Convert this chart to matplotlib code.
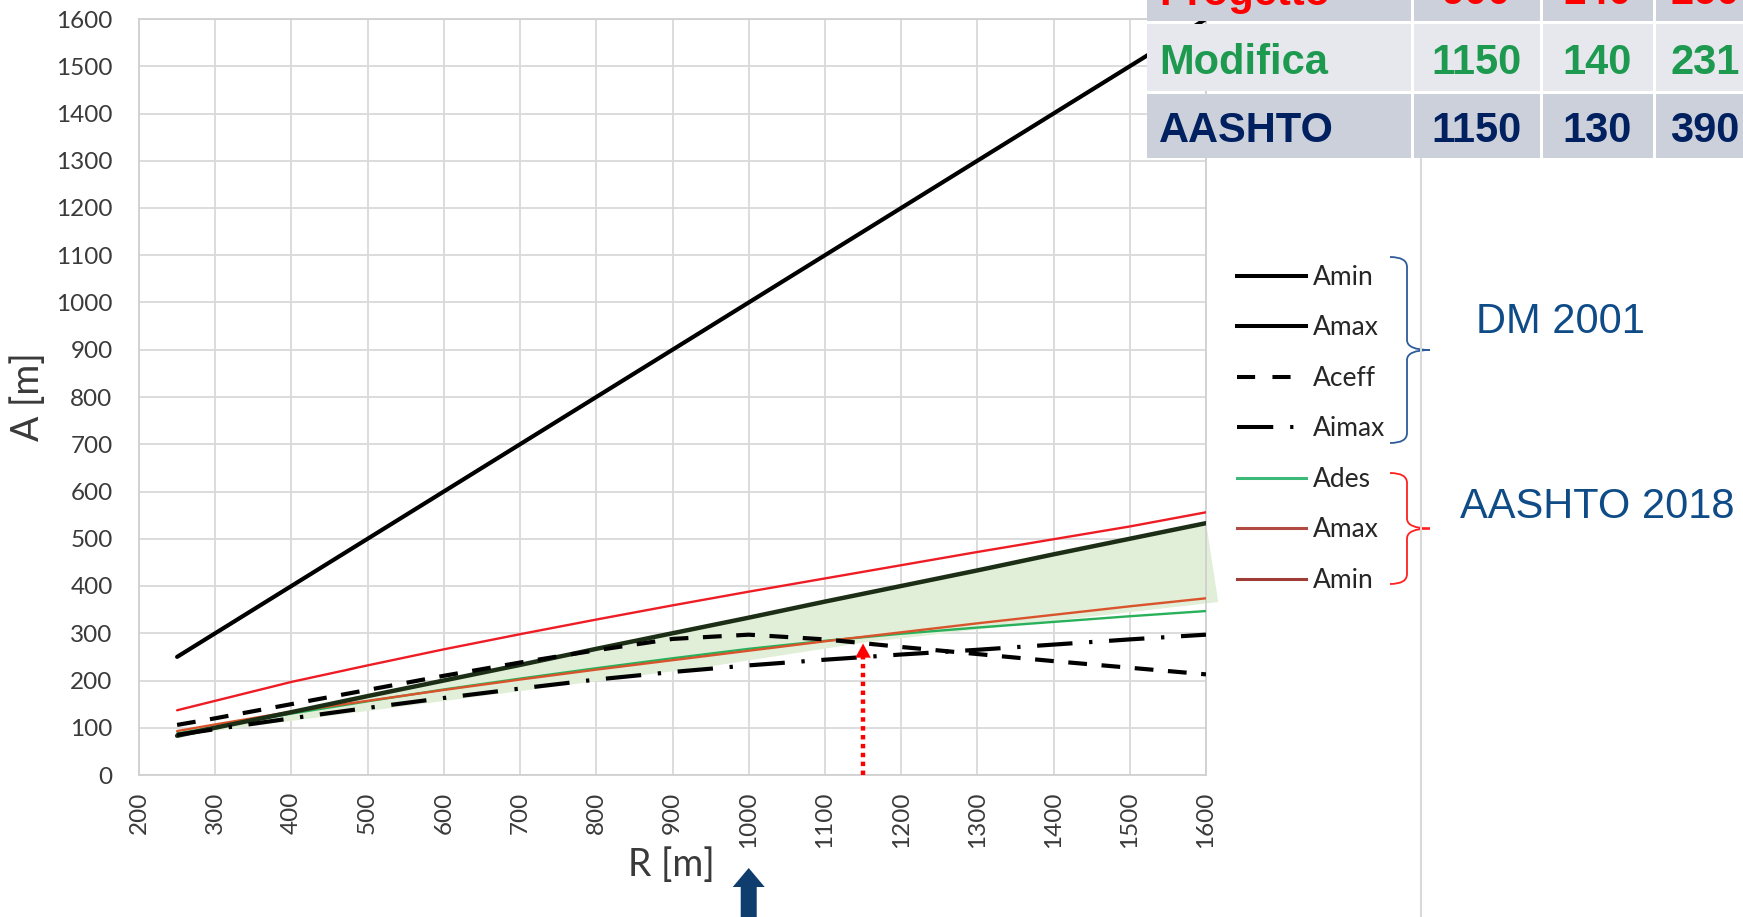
import matplotlib
matplotlib.use('Agg')
import matplotlib.pyplot as plt
from matplotlib.lines import Line2D
from matplotlib.patches import Rectangle, Polygon, PathPatch
from matplotlib.path import Path
from matplotlib.transforms import IdentityTransform

# ---------------- data ----------------
R = [250, 300, 400, 500, 600, 700, 800, 900, 1000, 1100, 1200, 1300, 1400, 1500, 1600]
dm_amin = [83, 100, 133, 167, 200, 233, 267, 300, 333, 367, 400, 433, 467, 500, 533]
dm_amax = [250, 300, 400, 500, 600, 700, 800, 900, 1000, 1100, 1200, 1300, 1400, 1500, 1600]
dm_aceff = [106, 120, 150, 180, 210, 238, 264, 288, 297, 287, 271, 256, 241, 227, 213]
dm_aimax = [85, 97, 120, 142, 163, 183, 202, 218, 232, 244, 255, 265, 276, 287, 297]
aashto_ades = [88, 102, 130, 156, 181, 204, 226, 247, 267, 284, 299, 312, 324, 336, 347]
aashto_amax = [137, 157, 197, 232, 266, 298, 329, 359, 388, 416, 444, 472, 499, 526, 556]
aashto_amin = [93, 107, 134, 157, 180, 202, 223, 243, 263, 283, 302, 321, 339, 357, 374]

# shaded band (light green)
fill_R = [250, 950, 1150, 1616, 1600]
fill_A = [83, 230, 280, 366, 535]

# red marker arrow (chosen radius) and blue arrow
arrow_R = 1150
arrow_A = 284
blue_arrow_R = 1000

x_ticks = list(range(200, 1601, 100))
y_ticks = list(range(0, 1601, 100))

legend_labels = ["Amin", "Amax", "Aceff", "Aimax", "Ades", "Amax", "Amin"]

table_labels = ["Progetto", "Modifica", "AASHTO"]
table_c1 = ["900", "1150", "1150"]
table_c2 = ["140", "140", "130"]
table_c3 = ["260", "231", "390"]
table_colors = ["#ff0000", "#1e9a50", "#002060"]
table_bg = ["#cbd0da", "#e7e8ed", "#cbd0da"]

# ---------------- figure ----------------
plt.rcParams['font.family'] = ['Lato', 'DejaVu Sans']
W, H = 1743, 917
fig = plt.figure(figsize=(W / 100, H / 100), dpi=100)
fig.patch.set_facecolor('white')


def fx(px):
    return px / W


def fy(py):
    return 1 - py / H


ax = fig.add_axes([fx(139), fy(775), (1206 - 139) / W, (775 - 19) / H])
ax.set_xlim(200, 1600)
ax.set_ylim(0, 1600)
ax.set_xticks(x_ticks)
ax.set_yticks(y_ticks)
ax.grid(True, color='#d9d9d9', lw=1.3)
ax.set_axisbelow(True)
for s in ax.spines.values():
    s.set_color('#d0d0d0')
    s.set_linewidth(1.3)
ax.tick_params(length=0, labelsize=17.5, labelcolor='#3a3a3a')
ax.tick_params(axis='y', pad=19)
ax.tick_params(axis='x', pad=12, labelrotation=90)

# shaded region
ax.fill(fill_R, fill_A, color='#e1eed8', lw=0, zorder=1.5, clip_on=False)

# AASHTO lines
ax.plot(R, aashto_amax, color='#ee1c25', lw=1.7, zorder=3, solid_capstyle='round')
ax.plot(R, aashto_amin, color='#d9542c', lw=1.7, zorder=3, solid_capstyle='round')
ax.plot(R, aashto_ades, color='#28b05a', lw=1.7, zorder=2.9, solid_capstyle='round')

# DM 2001 lines
ax.plot(R, dm_amax, color='#000000', lw=3.0, zorder=4, solid_capstyle='round')
ax.plot(R, dm_amin, color='#1c2f16', lw=3.2, zorder=4, solid_capstyle='round')
ax.plot(R, dm_aceff, color='#000000', lw=3.0, zorder=4, dashes=(4.5, 3.5))
ax.plot(R, dm_aimax, color='#000000', lw=3.0, zorder=4, dashes=(8.5, 4, 0.8, 4))

# red dotted arrow
ax.plot([arrow_R, arrow_R], [0, arrow_A - 26], color='#ff0000', lw=3.2,
        dashes=(1.0, 1.0), zorder=5)
ax.annotate('', xy=(arrow_R, arrow_A), xytext=(arrow_R, arrow_A - 30),
            arrowprops=dict(arrowstyle='-|>,head_length=1.0,head_width=0.55',
                            color='#ff0000', lw=0.1), zorder=5)

# axis labels
fig.text(fx(28), fy(397), "A [m]", rotation=90, ha='center', va='center',
         fontsize=27, color='#3a3a3a')
fig.text(fx(671), fy(865), "R [m]", ha='center', va='center',
         fontsize=27, color='#3a3a3a')

# blue arrow under R=1000
cx = ax.transData.transform((blue_arrow_R, 0))[0]
tip = H - 868
pts = [(cx - 8, -5), (cx - 8, tip - 19), (cx - 16, tip - 19), (cx, tip),
       (cx + 16, tip - 19), (cx + 8, tip - 19), (cx + 8, -5)]
fig.add_artist(Polygon(pts, closed=True, transform=IdentityTransform(),
                       facecolor='#0f3d6e', edgecolor='none'))

# legend
handles = [
    Line2D([], [], color='#000000', lw=2.9),
    Line2D([], [], color='#000000', lw=2.9),
    Line2D([], [], color='#000000', lw=2.9, dashes=(4.5, 4.3)),
    Line2D([], [], color='#000000', lw=2.9, dashes=(9.0, 4.2, 0.8, 8)),
    Line2D([], [], color='#3cb878', lw=2.2),
    Line2D([], [], color='#b04a42', lw=2.2),
    Line2D([], [], color='#a03c38', lw=2.2),
]
fig.legend(handles, legend_labels, loc='upper left',
           bbox_to_anchor=(fx(1237), fy(265)), frameon=False, fontsize=19,
           handlelength=2.6, handletextpad=0.27, labelspacing=0.965,
           borderpad=0, borderaxespad=0, labelcolor='#262626')


# braces
def brace(ytop, ybot, color):
    x0, x1, xt = 1390, 1407, 1430
    ym = (ytop + ybot) / 2
    r = 10
    T = lambda y: H - y
    verts = [(x0, T(ytop)), (x1, T(ytop)), (x1, T(ytop + r)),
             (x1, T(ym - r)), (x1, T(ym)), (xt, T(ym)),
             (x1, T(ym)), (x1, T(ym + r)),
             (x1, T(ybot - r)), (x1, T(ybot)), (x0, T(ybot))]
    codes = [Path.MOVETO, Path.CURVE3, Path.CURVE3,
             Path.LINETO, Path.CURVE3, Path.CURVE3,
             Path.CURVE3, Path.CURVE3,
             Path.LINETO, Path.CURVE3, Path.CURVE3]
    fig.add_artist(PathPatch(Path(verts, codes), transform=IdentityTransform(),
                             facecolor='none', edgecolor=color, lw=1.3))


brace(257, 443, '#2e5c9a')
brace(473, 584, '#ff2020')

fig.text(fx(1476), fy(322), "DM 2001", ha='left', va='center', fontsize=30,
         color='#0f4c87', family=['Liberation Sans', 'DejaVu Sans'])
fig.text(fx(1460), fy(507), "AASHTO 2018", ha='left', va='center', fontsize=30,
         color='#0f4c87', family=['Liberation Sans', 'DejaVu Sans'])

# vertical light-gray border line
fig.add_artist(Line2D([fx(1421), fx(1421)], [fy(159), fy(917)],
                      color='#d9d9d9', lw=1.5))

# table (top right)
col_edges = [1145, 1412, 1541, 1654, 1756]
row_edges = [-48, 22, 92, 159]
for i in range(3):
    top, bot = row_edges[i], row_edges[i + 1]
    for j in range(4):
        left, right = col_edges[j], col_edges[j + 1]
        fig.add_artist(Rectangle((left + 1.5, H - bot + 1.5),
                                 right - left - 3, bot - top - 3,
                                 transform=IdentityTransform(),
                                 facecolor=table_bg[i], edgecolor='none'))
    base = bot - 17.5
    kw = dict(fontsize=30, fontweight='bold', color=table_colors[i],
              family=['Liberation Sans', 'DejaVu Sans'], va='baseline')
    fig.text(fx(1159), fy(base), table_labels[i], ha='left', **kw)
    for j, vals in enumerate([table_c1, table_c2, table_c3]):
        cxx = (col_edges[j + 1] + col_edges[j + 2]) / 2
        fig.text(fx(cxx), fy(base), vals[i], ha='center', **kw)

fig.savefig('out.png', dpi=100)
